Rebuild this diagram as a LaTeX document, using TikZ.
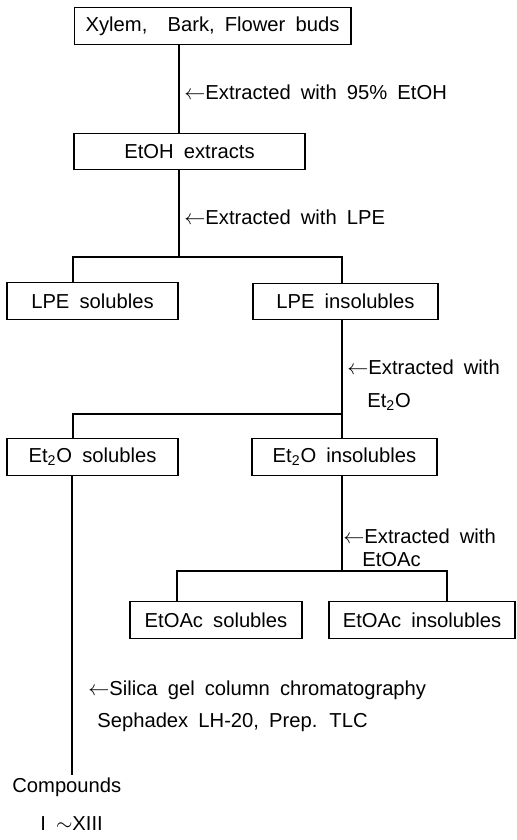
\documentclass[tikz,border=0pt]{standalone}
\usepackage{fontspec}
\setmainfont{Liberation Sans}
\usetikzlibrary{positioning,calc}

\begin{document}
\begin{tikzpicture}[
  x=0.02cm, y=-0.02cm,
  font={\fontsize{11.5}{14}\selectfont\spaceskip=0.5em\relax},
  box/.style={draw, line width=0.6pt, minimum height=0.73cm, inner sep=0pt, align=center},
  lbl/.style={anchor=base west, inner sep=0pt},
  link/.style={line width=0.6pt}
]
\useasboundingbox (0,0) rectangle (517,840);

% Fractions.
\node[box, minimum width=5.54cm] (src) at (212.5,26) {Xylem,\ \ Bark, Flower buds};
\node[box, minimum width=4.62cm] (etoh) at (189.5,151.5) {EtOH extracts};
\node[box, minimum width=3.42cm] (lpesol) at (92.5,301) {LPE solubles};
\node[box, minimum width=3.70cm] (lpeins) at (345.5,301.5) {LPE insolubles};
\node[box, minimum width=3.42cm] (etsol) at (92.5,457) {Et\textsubscript{2}O solubles};
\node[box, minimum width=3.70cm] (etins) at (344.5,457) {Et\textsubscript{2}O insolubles};
\node[box, minimum width=3.44cm] (acsol) at (216,620) {EtOAc solubles};
\node[box, minimum width=3.72cm] (acins) at (422,620) {EtOAc insolubles};

% Branch points.
\coordinate (b1) at (179,257);
\coordinate (b1l) at (73,257);
\coordinate (b1r) at (342,257);
\coordinate (b2l) at (73,414);
\coordinate (b2r) at (342,414);
\coordinate (b3) at (342,571);
\coordinate (b3l) at (177,571);
\coordinate (b3r) at (447,571);
\coordinate (cmpd) at (72,775);

% Connectors.
\draw[link] (src.south -| b1) -- (etoh.north -| b1);
\draw[link] (etoh.south -| b1) -- (b1);
\draw[link] (lpesol.north -| b1l) -- (b1l) -- (b1r) -- (lpeins.north -| b1r);
\draw[link] (lpeins.south -| b2r) -- (etins.north -| b2r);
\draw[link] (etsol.north -| b2l) -- (b2l) -- (b2r);
\draw[link] (etins.south -| b3) -- (b3);
\draw[link] (acsol.north -| b3l) -- (b3l) -- (b3r) -- (acins.north -| b3r);
\draw[link] (etsol.south -| cmpd) -- (cmpd);

% Steps.
\node[lbl] (s1) at (184,99.5) {$\leftarrow$Extracted with 95\% EtOH};
\node[lbl] (s2) at (184,224) {$\leftarrow$Extracted with LPE};
\node[lbl] (s3) at (347,374) {$\leftarrow$Extracted with};
\node[lbl] (s3b) at (367,407) {Et\textsubscript{2}O};
\node[lbl] (s4) at (343,543) {$\leftarrow$Extracted with};
\node[lbl] (s4b) at (362,566) {EtOAc};
\node[lbl] (s5) at (88,695) {$\leftarrow$Silica gel column chromatography};
\node[lbl] (s5b) at (97,727) {Sephadex LH-20, Prep. TLC};

% Products.
\node[lbl] (prod) at (12,792) {Compounds};
\node[lbl] (prodb) at (40,830) {I $\sim$XIII};
\end{tikzpicture}
\end{document}
